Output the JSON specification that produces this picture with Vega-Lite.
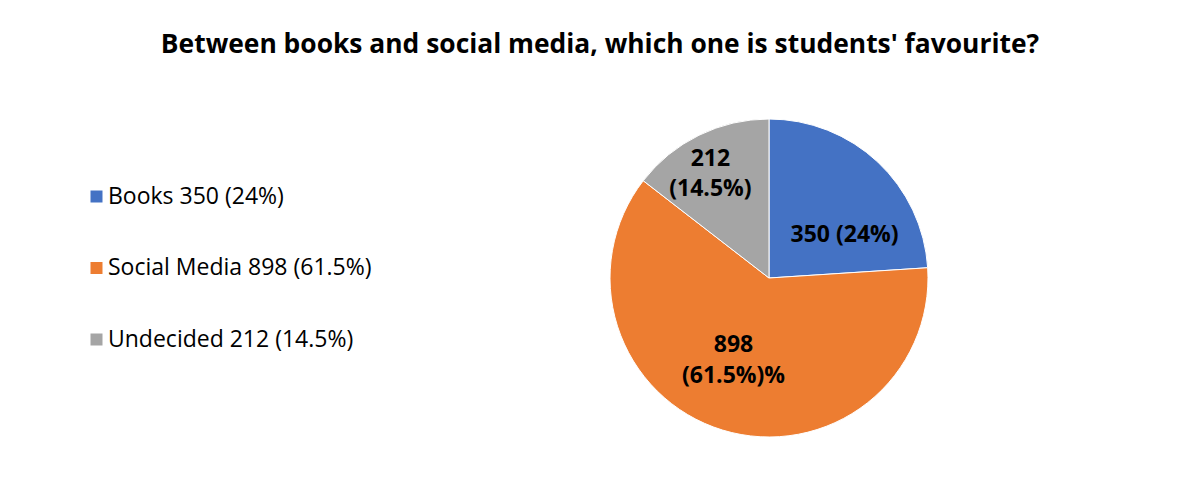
{
  "$schema": "https://vega.github.io/schema/vega-lite/v6.json",
  "width": 318,
  "height": 318,
  "autosize": "none",
  "padding": {"left": 610, "top": 119, "right": 276, "bottom": 56},
  "background": "white",
  "title": {
    "text": "Between books and social media, which one is students' favourite?",
    "font": "Open Sans",
    "fontWeight": "bold",
    "fontSize": 26.4,
    "color": "#000000",
    "anchor": "middle",
    "frame": "group",
    "dx": -169,
    "offset": 59
  },
  "data": {
    "values": [
      {"category": "Books 350 (24%)", "value": 350, "order": 1, "label": "350 (24%)"},
      {"category": "Social Media 898 (61.5%)", "value": 898, "order": 2, "label": "898\n(61.5%)%"},
      {"category": "Undecided 212 (14.5%)", "value": 212, "order": 3, "label": "212\n(14.5%)"}
    ]
  },
  "encoding": {
    "theta": {"field": "value", "type": "quantitative", "stack": true},
    "order": {"field": "order", "type": "quantitative"},
    "color": {
      "field": "category",
      "type": "nominal",
      "scale": {
        "domain": ["Books 350 (24%)", "Social Media 898 (61.5%)", "Undecided 212 (14.5%)"],
        "range": ["#4472C4", "#ED7D31", "#A5A5A5"]
      },
      "legend": {
        "title": null,
        "orient": "none",
        "legendX": -525,
        "legendY": 66,
        "padding": 0,
        "symbolType": "square",
        "symbolSize": 144,
        "symbolStrokeWidth": 0,
        "labelFont": "Open Sans",
        "labelFontSize": 23,
        "labelColor": "#000000",
        "rowPadding": 47.5,
        "labelOffset": 0,
        "labelLimit": 400
      }
    }
  },
  "layer": [
    {"mark": {"type": "arc", "outerRadius": 159, "stroke": "white", "strokeWidth": 1}},
    {
      "mark": {"type": "text", "radius": 90, "dx": 14, "dy": 23, "font": "Open Sans", "fontWeight": "bold", "fontSize": 23, "lineBreak": "\n", "lineHeight": 31},
      "encoding": {"text": {"condition": {"test": "datum.order == 1", "field": "label"}, "value": ""}, "color": {"value": "#000000"}}
    },
    {
      "mark": {"type": "text", "radius": 70, "dx": -15, "font": "Open Sans", "fontWeight": "bold", "fontSize": 23, "lineBreak": "\n", "lineHeight": 31},
      "encoding": {"text": {"condition": {"test": "datum.order == 2", "field": "label"}, "value": ""}, "color": {"value": "#000000"}}
    },
    {
      "mark": {"type": "text", "radius": 133, "font": "Open Sans", "fontWeight": "bold", "fontSize": 23, "lineBreak": "\n", "lineHeight": 30},
      "encoding": {"text": {"condition": {"test": "datum.order == 3", "field": "label"}, "value": ""}, "color": {"value": "#000000"}}
    }
  ],
  "config": {"view": {"stroke": null}}
}
